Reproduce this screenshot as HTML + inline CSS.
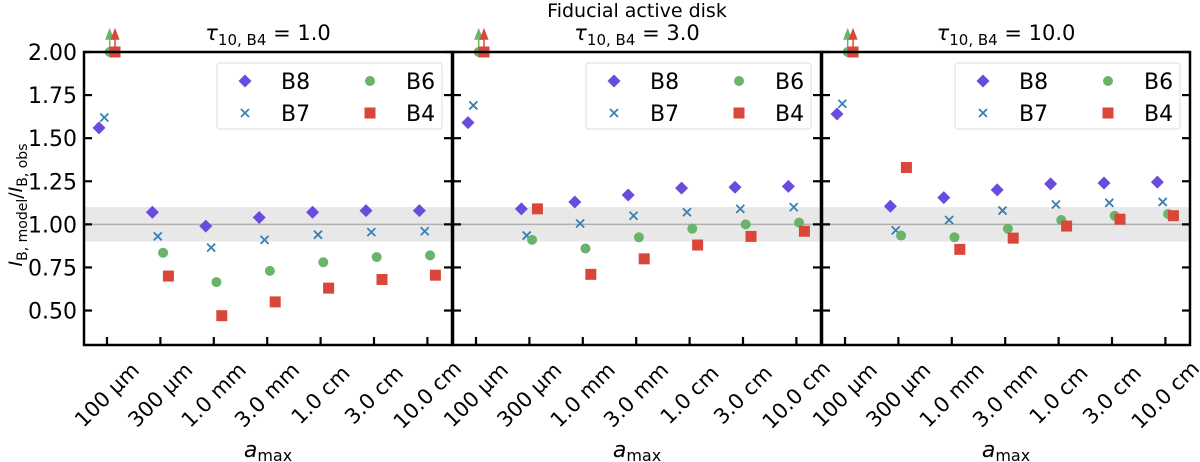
<!DOCTYPE html>
<html><head><meta charset="utf-8">
<style>
html,body{margin:0;padding:0;background:#fff;}
svg{display:block;font-family:"DejaVu Sans","Liberation Sans",sans-serif;}
</style></head>
<body>
<svg id="chart" width="1200" height="462" viewBox="0 0 1200 462" xmlns="http://www.w3.org/2000/svg">
<text x="637" y="17" font-size="19" text-anchor="middle">Fiducial active disk</text>
<text transform="translate(22,205) rotate(-90)" font-size="19" text-anchor="middle"><tspan font-style="italic">I</tspan><tspan font-size="14" dy="5">B, model</tspan><tspan dy="-5">/</tspan><tspan font-style="italic">I</tspan><tspan font-size="14" dy="5">B, obs</tspan></text>
</svg>
<script>
const categories = ["100 µm","300 µm","1.0 mm","3.0 mm","1.0 cm","3.0 cm","10.0 cm"];
const yTicks = [0.5,0.75,1.0,1.25,1.5,1.75,2.0];
const yTickLabels = ["0.50","0.75","1.00","1.25","1.50","1.75","2.00"];
const panelTitles = ["1.0","3.0","10.0"];
const seriesNames = ["B8","B7","B6","B4"];
// null = beyond axis (upper-limit arrow at 2.0)
const p1B8 = [1.56,1.07,0.99,1.04,1.07,1.08,1.08];
const p1B7 = [1.62,0.93,0.865,0.91,0.94,0.955,0.96];
const p1B6 = [null,0.835,0.665,0.73,0.78,0.81,0.82];
const p1B4 = [null,0.70,0.47,0.55,0.63,0.68,0.705];
const p2B8 = [1.59,1.09,1.13,1.17,1.21,1.215,1.22];
const p2B7 = [1.69,0.935,1.005,1.05,1.07,1.09,1.10];
const p2B6 = [null,0.91,0.86,0.925,0.975,1.0,1.01];
const p2B4 = [null,1.09,0.71,0.80,0.88,0.93,0.96];
const p3B8 = [1.64,1.105,1.155,1.20,1.235,1.24,1.245];
const p3B7 = [1.70,0.965,1.025,1.08,1.115,1.125,1.13];
const p3B6 = [null,0.935,0.925,0.975,1.025,1.05,1.06];
const p3B4 = [null,1.33,0.855,0.92,0.99,1.03,1.05];
const panels = [[p1B8,p1B7,p1B6,p1B4],[p2B8,p2B7,p2B6,p2B4],[p3B8,p3B7,p3B6,p3B4]];

const NS="http://www.w3.org/2000/svg";
const svg=document.getElementById('chart');
const colors={B8:"#6a4bdc",B7:"#3a7fb3",B6:"#6ab36a",B4:"#d9473a"};
const offsets=[-0.15,-0.05,0.05,0.15];
const panelLefts=[84,453,822], PW=368, TOP=52, BOT=345;
const Y0=0.3, Y1=2.0;
function yS(v){return BOT-(v-Y0)/(Y1-Y0)*(BOT-TOP);}
function mk(tag,attrs,parent){const e=document.createElementNS(NS,tag);for(const k in attrs)e.setAttribute(k,attrs[k]);(parent||svg).appendChild(e);return e;}
function marker(g,name,x,y){
  const c=colors[name];let e;
  if(name==="B8"){e=mk('path',{d:`M${x} ${y-6.5}L${x+6.5} ${y}L${x} ${y+6.5}L${x-6.5} ${y}Z`,fill:c},g);}
  else if(name==="B7"){e=mk('path',{d:`M${x-4} ${y-4}L${x+4} ${y+4}M${x-4} ${y+4}L${x+4} ${y-4}`,stroke:c,'stroke-width':1.8,fill:'none'},g);}
  else if(name==="B6"){e=mk('circle',{cx:x,cy:y,r:5,fill:c},g);}
  else {e=mk('rect',{x:x-5.5,y:y-5.5,width:11,height:11,fill:c},g);}
  return e;
}
panels.forEach((data,pi)=>{
  const L=panelLefts[pi];
  const xS=i=>L+23+i*53.4;
  const g=mk('g',{});
  
  
  const band=mk('rect',{x:L,y:yS(1.1),width:PW,height:yS(0.9)-yS(1.1),fill:"#e8e8e8"},g);
  
  
  const ref=mk('line',{x1:L,x2:L+PW,y1:yS(1),y2:yS(1),stroke:"#b0b0b0","stroke-width":1.5},g);
  
  
  yTicks.forEach((v,k)=>{
    const y=yS(v);
    mk('line',{x1:L,x2:L+8,y1:y,y2:y,stroke:"#000","stroke-width":2.2},g);
    mk('line',{x1:L+PW-8,x2:L+PW,y1:y,y2:y,stroke:"#000","stroke-width":2.2},g);
    if(pi===0){const t=mk('text',{x:L-7,y:y+8,"font-size":22,"text-anchor":"end"},g);t.textContent=yTickLabels[k];
      
      }
  });
  categories.forEach((c,i)=>{
    const x=xS(i);
    mk('line',{x1:x,x2:x,y1:BOT-8,y2:BOT,stroke:"#000","stroke-width":2.2},g);
    const t=mk('text',{transform:`translate(${x},${BOT+50}) rotate(-45)`,"font-size":21,"text-anchor":"middle","dominant-baseline":"central"},g);
    t.textContent=c;
    
    
  });
  data.forEach((arr,si)=>{
    const name=seriesNames[si];
    arr.forEach((v,i)=>{
      const x=xS(i+offsets[si]);
      if(v===null){
        const y=yS(2.0);
        marker(g,name,x,y);
        const a=mk('path',{d:`M${x} ${y}L${x} ${y-14}M${x-3.5} ${y-13}L${x} ${y-22}L${x+3.5} ${y-13}Z`,stroke:colors[name],fill:colors[name],"stroke-width":1.5},g);
        
        
      } else {
        const m=marker(g,name,x,yS(v));
        
        
      }
    });
  });
  const fr=mk('rect',{x:L,y:TOP,width:PW,height:BOT-TOP,fill:"none",stroke:"#000","stroke-width":2.5},g);
  
  
  const tt=mk('text',{x:L+PW/2,y:40,"font-size":21,"text-anchor":"middle"},g);
  tt.innerHTML=`<tspan font-style="italic">τ</tspan><tspan font-size="15" dy="5">10, B4</tspan><tspan dy="-5"> = ${panelTitles[pi]}</tspan>`;
  
  
  const lg=mk('g',{},g);
  
  
  mk('rect',{x:L+133,y:63,width:225,height:66,rx:3,fill:"#fff",stroke:"#ddd","stroke-width":1},lg);
  const pos=[[0,0],[0,1],[1,0],[1,1]];
  seriesNames.forEach((n,si)=>{
    const [c,r]=pos[si];
    const mx=L+161+c*125, my=81+r*32;
    const e=mk('g',{},lg);
    
    
    marker(e,n,mx,my);
    const t=mk('text',{x:mx+36,y:my+8,"font-size":22},e);t.textContent=n;
  });
  const xl=mk('text',{x:L+PW/2,y:457,"font-size":22,"text-anchor":"middle"},g);
  xl.innerHTML=`<tspan font-style="italic">a</tspan><tspan font-size="16" dy="4">max</tspan>`;
  
  
});
</script>
</body></html>
